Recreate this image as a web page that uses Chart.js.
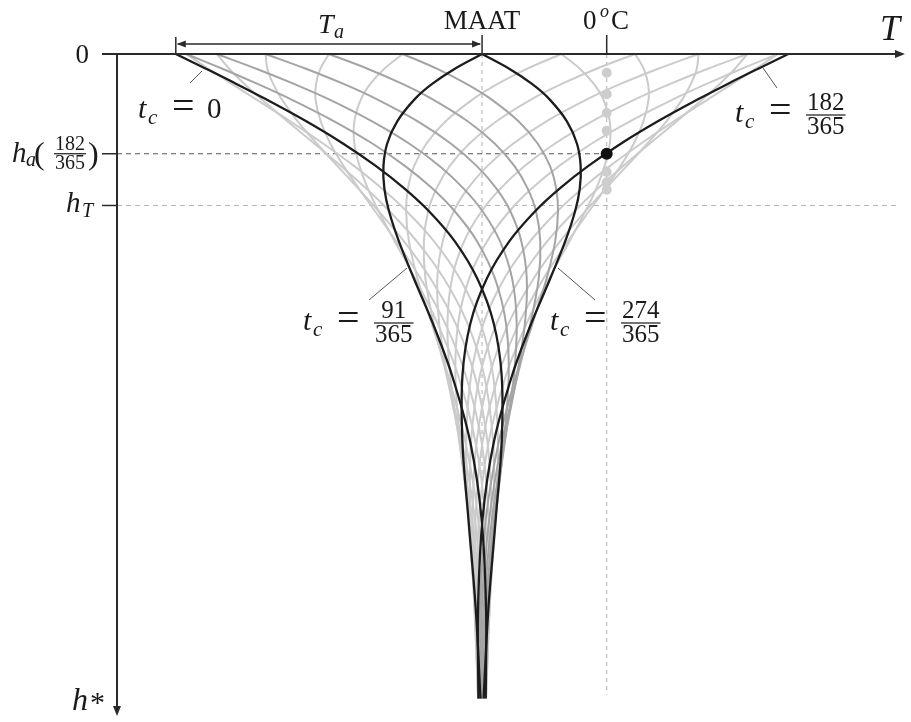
<!DOCTYPE html>
<html>
<head>
<meta charset="utf-8">
<script src="https://cdn.jsdelivr.net/npm/chart.js@4.4.1/dist/chart.umd.min.js"></script>
<style>
  html, body { margin: 0; padding: 0; background: #fff; }
  #wrap { position: relative; width: 911px; height: 722px; }
</style>
</head>
<body>
<div id="wrap"><canvas id="trumpet"></canvas></div>
<script>
// depth below the surface, in damping depths (h*)
const depth = [0, 0.1, 0.2, 0.3, 0.45, 0.6, 0.75, 0.9, 1.05, 1.25, 1.5, 1.8, 2.15, 2.6, 3.1, 3.7, 4.31];

// T - MAAT along each profile, in % of the surface amplitude Ta, one profile per t_c (days)
const day000 = [-100, -90.0, -80.2, -70.8, -57.4, -45.3, -34.6, -25.3, -17.4, -9.0, -1.6, 3.8, 6.4, 6.4, 4.5, 2.1, 0.5];
const day015 = [-96.6, -89.3, -81.7, -74.0, -62.6, -51.8, -41.7, -32.7, -24.7, -15.8, -7.3, -0.5, 3.6, 5.2, 4.3, 2.4, 0.8];
const day030 = [-86.6, -82.5, -77.6, -72.2, -63.6, -54.7, -46.0, -37.8, -30.3, -21.4, -12.5, -4.8, 0.7, 3.6, 3.8, 2.5, 1.1];
const day046 = [-70.7, -70.1, -68.2, -65.5, -60.2, -53.9, -47.2, -40.4, -33.8, -25.6, -16.9, -8.7, -2.4, 1.8, 3.1, 2.4, 1.3];
const day061 = [-50.0, -52.8, -54.2, -54.4, -52.7, -49.5, -45.2, -40.2, -35.0, -28.1, -20.1, -12.1, -5.3, -0.1, 2.1, 2.2, 1.3];
const day076 = [-25.9, -32.0, -36.5, -39.5, -41.7, -41.7, -40.0, -37.3, -33.8, -28.6, -21.9, -14.6, -7.8, -2.1, 1.0, 1.8, 1.3];
const day091 = [0, -9.0, -16.3, -21.9, -27.7, -31.0, -32.2, -31.9, -30.4, -27.2, -22.3, -16.1, -9.8, -3.8, -0.2, 1.3, 1.2];
const day106 = [25.9, 14.6, 5.1, -2.8, -11.9, -18.2, -22.2, -24.2, -24.8, -23.9, -21.1, -16.5, -11.1, -5.4, -1.3, 0.7, 1.1];
const day122 = [50.0, 37.2, 26.0, 16.4, 4.7, -4.2, -10.6, -14.9, -17.6, -19.0, -18.5, -15.8, -11.6, -6.5, -2.4, 0.1, 0.8];
const day137 = [70.7, 57.3, 45.2, 34.6, 21.0, 10.1, 1.7, -4.7, -9.2, -12.8, -14.6, -14.0, -11.4, -7.2, -3.3, -0.6, 0.5];
const day152 = [86.6, 73.5, 61.4, 50.3, 35.9, 23.7, 13.8, 6.0, -0.1, -5.8, -9.8, -11.3, -10.4, -7.4, -4.0, -1.2, 0.2];
const day167 = [96.6, 84.6, 73.3, 62.7, 48.3, 35.7, 25.1, 16.2, 9.0, 1.7, -4.2, -7.8, -8.7, -7.1, -4.4, -1.7, -0.2];
const day182 = [100, 90.0, 80.2, 70.8, 57.4, 45.3, 34.6, 25.3, 17.4, 9.0, 1.6, -3.8, -6.4, -6.4, -4.5, -2.1, -0.5];
const day198 = [96.6, 89.3, 81.7, 74.0, 62.6, 51.8, 41.7, 32.7, 24.7, 15.8, 7.3, 0.5, -3.6, -5.2, -4.3, -2.4, -0.8];
const day213 = [86.6, 82.5, 77.6, 72.2, 63.6, 54.7, 46.0, 37.8, 30.3, 21.4, 12.5, 4.8, -0.7, -3.6, -3.8, -2.5, -1.1];
const day228 = [70.7, 70.1, 68.2, 65.5, 60.2, 53.9, 47.2, 40.4, 33.8, 25.6, 16.9, 8.7, 2.4, -1.8, -3.1, -2.4, -1.3];
const day243 = [50.0, 52.8, 54.2, 54.4, 52.7, 49.5, 45.2, 40.2, 35.0, 28.1, 20.1, 12.1, 5.3, 0.1, -2.1, -2.2, -1.3];
const day258 = [25.9, 32.0, 36.5, 39.5, 41.7, 41.7, 40.0, 37.3, 33.8, 28.6, 21.9, 14.6, 7.8, 2.1, -1.0, -1.8, -1.3];
const day274 = [0, 9.0, 16.3, 21.9, 27.7, 31.0, 32.2, 31.9, 30.4, 27.2, 22.3, 16.1, 9.8, 3.8, 0.2, -1.3, -1.2];
const day289 = [-25.9, -14.6, -5.1, 2.8, 11.9, 18.2, 22.2, 24.2, 24.8, 23.9, 21.1, 16.5, 11.1, 5.4, 1.3, -0.7, -1.1];
const day304 = [-50.0, -37.2, -26.0, -16.4, -4.7, 4.2, 10.6, 14.9, 17.6, 19.0, 18.5, 15.8, 11.6, 6.5, 2.4, -0.1, -0.8];
const day319 = [-70.7, -57.3, -45.2, -34.6, -21.0, -10.1, -1.7, 4.7, 9.2, 12.8, 14.6, 14.0, 11.4, 7.2, 3.3, 0.6, -0.5];
const day335 = [-86.6, -73.5, -61.4, -50.3, -35.9, -23.7, -13.8, -6.0, 0.1, 5.8, 9.8, 11.3, 10.4, 7.4, 4.0, 1.2, -0.2];
const day350 = [-96.6, -84.6, -73.3, -62.7, -48.3, -35.7, -25.1, -16.2, -9.0, -1.7, 4.2, 7.8, 8.7, 7.1, 4.4, 1.7, 0.2];

// profiles drawn in black, the rest grey (late-year ones a shade darker)
const blackProfiles = [day000, day091, day182, day274];
const lightProfiles = [day015, day030, day046, day061, day076, day106, day122, day137, day152, day167,
                       day198, day213, day228, day243, day258];
const darkProfiles = [day289, day304, day319, day335, day350];

// 0 °C on the same T scale, and the marked depths
const zeroC = 40.7;
const hA = 0.667;      // h_a(182/365)
const hT = 1.013;      // h_T
const thawDepths = [0.125, 0.269, 0.395, 0.513, 0.789, 0.858, 0.907];

const SERIF = '"Liberation Serif", "Times New Roman", serif';
const it = n => `italic ${n}px ${SERIF}`;
const rm = n => `${n}px ${SERIF}`;
const INK = '#1a1a1a';

const toPts = vals => vals.map((v, i) => ({ x: v, y: depth[i] }));
const profile = (vals, color, width, order) => ({
    data: toPts(vals), showLine: true, borderColor: color, borderWidth: width,
    pointRadius: 0, tension: 0.35, order, clip: false
});

function txt(ctx, s, x, base, font, align) {
    ctx.font = font;
    ctx.textAlign = align || 'left';
    ctx.textBaseline = 'alphabetic';
    ctx.fillText(s, x, base);
}

function frac(ctx, num, den, left, bar, size) {
    ctx.font = rm(size);
    const w = Math.max(ctx.measureText(num).width, ctx.measureText(den).width) + 2;
    ctx.fillRect(left, bar - 0.6, w, 1.2);
    txt(ctx, num, left + w / 2, bar - size * 0.2, rm(size), 'center');
    txt(ctx, den, left + w / 2, bar + size * 0.74, rm(size), 'center');
}

// "t_c = ..." labels
function tcLabel(ctx, x0, base, num, den) {
    txt(ctx, 't', x0, base, it(30));
    txt(ctx, 'c', x0 + 10, base + 6, it(21));
    txt(ctx, '=', x0 + 34, base + 1, rm(40));
    if (den) frac(ctx, num, den, x0 + 71, base - 7, 25);
    else txt(ctx, num, x0 + 69, base, rm(29));
}

function seg(ctx, x1, y1, x2, y2, color, width, dash) {
    ctx.beginPath();
    ctx.strokeStyle = color;
    ctx.lineWidth = width;
    ctx.setLineDash(dash || []);
    ctx.moveTo(x1, y1);
    ctx.lineTo(x2, y2);
    ctx.stroke();
    ctx.setLineDash([]);
}

function head(ctx, x, y, dx, dy, len, half) {
    // filled arrow head with its tip at (x, y), pointing along (dx, dy)
    ctx.beginPath();
    ctx.moveTo(x, y);
    ctx.lineTo(x - dx * len - dy * half, y - dy * len - dx * half);
    ctx.lineTo(x - dx * len + dy * half, y - dy * len + dx * half);
    ctx.closePath();
    ctx.fill();
}

const sketch = {
    id: 'sketch',
    beforeDatasetsDraw(chart) {
        const { ctx, chartArea: a, scales: { x, y } } = chart;
        const xm = x.getPixelForValue(0), x0 = x.getPixelForValue(zeroC);
        const top = y.getPixelForValue(0), end = y.getPixelForValue(depth[depth.length - 1]);
        ctx.save();
        seg(ctx, xm, top, xm, end, '#bdbdbd', 1.2, [4, 4]);
        seg(ctx, x0, top, x0, end - 4, '#bdbdbd', 1.2, [4, 4]);
        seg(ctx, a.left, y.getPixelForValue(hT), a.right - 6, y.getPixelForValue(hT), '#b4b4b4', 1.2, [5, 4]);
        seg(ctx, a.left, y.getPixelForValue(hA), x0, y.getPixelForValue(hA), '#555', 1.2, [5, 4]);
        ctx.restore();
    },
    afterDatasetsDraw(chart) {
        const { ctx, chartArea: a, scales: { x, y } } = chart;
        const top = y.getPixelForValue(0);
        const xm = x.getPixelForValue(0), x0 = x.getPixelForValue(zeroC), xc = x.getPixelForValue(-100);
        ctx.save();
        ctx.fillStyle = '#2a2a2a';

        // axes
        seg(ctx, a.left - 15, top, a.right - 8, top, '#2a2a2a', 2);
        head(ctx, a.right, top, 1, 0, 10, 4);
        seg(ctx, a.left, top, a.left, a.bottom - 8, '#2a2a2a', 2);
        head(ctx, a.left, a.bottom, 0, 1, 10, 4);
        for (const d of [hA, hT]) seg(ctx, a.left - 15, y.getPixelForValue(d), a.left, y.getPixelForValue(d), '#2a2a2a', 1.5);
        seg(ctx, xm, top - 19, xm, top, '#2a2a2a', 1.5);
        seg(ctx, x0, top - 19, x0, top, '#2a2a2a', 1.5);
        seg(ctx, xc, top - 17, xc, top, '#2a2a2a', 1.5);

        // Ta dimension arrow
        seg(ctx, xc + 2, top - 10, xm - 2, top - 10, '#2a2a2a', 1.3);
        head(ctx, xc + 1, top - 10, -1, 0, 9, 3.5);
        head(ctx, xm - 1, top - 10, 1, 0, 9, 3.5);

        // leader lines
        seg(ctx, 190, 83, 202, 71, '#555', 1);
        seg(ctx, 777, 88, 763, 68, '#555', 1);
        seg(ctx, 369, 300, 407, 268, '#555', 1);
        seg(ctx, 595, 300, 558, 268, '#555', 1);

        ctx.fillStyle = INK;
        // top labels
        txt(ctx, 'T', 318, 33, it(28));
        txt(ctx, 'a', 334, 38, it(20));
        txt(ctx, 'MAAT', xm, 29, rm(27), 'center');
        txt(ctx, '0', 583, 29, rm(27));
        txt(ctx, 'o', 600, 17, it(18));
        txt(ctx, 'C', 611, 29, rm(27));
        txt(ctx, 'T', 880, 40, it(36));

        // depth labels
        txt(ctx, '0', 89, 63, rm(27), 'right');
        const ya = y.getPixelForValue(hA);
        txt(ctx, 'h', 12, ya + 8, it(29));
        txt(ctx, 'a', 26, ya + 12, it(20));
        txt(ctx, '(', 34, ya + 10, rm(32));
        frac(ctx, '182', '365', 54, ya, 20);
        txt(ctx, ')', 88, ya + 10, rm(32));
        const yt = y.getPixelForValue(hT);
        txt(ctx, 'h', 66, yt + 7, it(29));
        txt(ctx, 'T', 82, yt + 12, it(20));
        txt(ctx, 'h', 72, 710, it(32));
        txt(ctx, '*', 90, 712, rm(30));

        // profile labels
        tcLabel(ctx, 138, 118, '0');
        tcLabel(ctx, 735, 122, '182', '365');
        tcLabel(ctx, 303, 330, '91', '365');
        tcLabel(ctx, 550, 330, '274', '365');
        ctx.restore();
    }
};

const datasets = [
    { data: [{ x: zeroC, y: hA }], pointRadius: 6, backgroundColor: '#111', borderWidth: 0, order: 0 },
    { data: thawDepths.map(d => ({ x: zeroC, y: d })), pointRadius: 5, backgroundColor: '#cdcdcd', borderWidth: 0, order: 1 },
    ...blackProfiles.map(p => profile(p, '#1c1c1c', 2.3, 2)),
    ...darkProfiles.map(p => profile(p, '#a4a4a4', 2, 3)),
    ...lightProfiles.map(p => profile(p, '#cbcbcb', 2, 4))
];

new Chart(document.getElementById('trumpet'), {
    type: 'scatter',
    data: { datasets },
    options: {
        responsive: true,
        maintainAspectRatio: false,
        animation: false,
        events: [],
        layout: { padding: { left: 117, right: 4, top: 54, bottom: 4 } },
        plugins: { legend: { display: false }, tooltip: { enabled: false } },
        scales: {
            x: { type: 'linear', min: -119.2, max: 138.1, display: false },
            y: { type: 'linear', min: 0, max: 4.427, reverse: true, display: false }
        }
    },
    plugins: [sketch]
});
</script>
</body>
</html>
